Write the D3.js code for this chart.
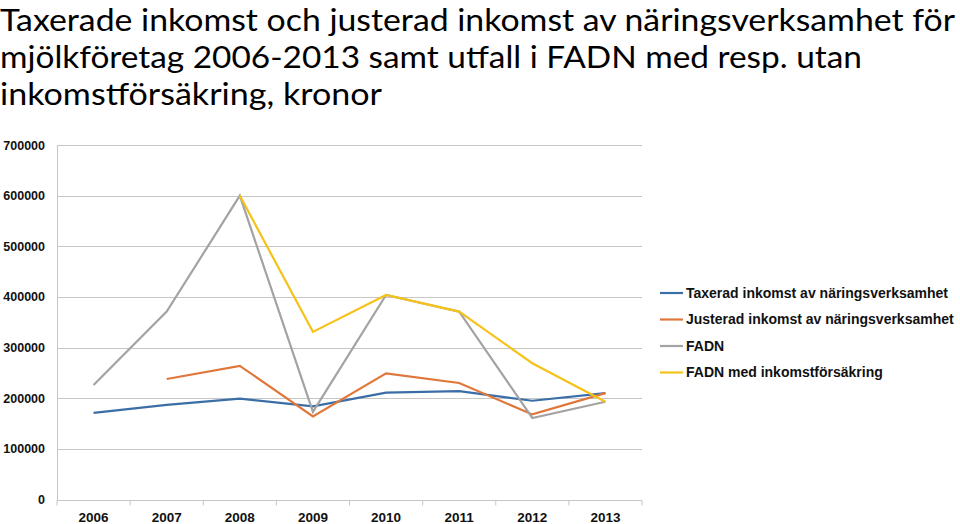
<!DOCTYPE html>
<html>
<head>
<meta charset="utf-8">
<script src="https://cdn.jsdelivr.net/npm/d3@7"></script>
<style>
  html, body { margin: 0; padding: 0; background: #fff; }
  svg { display: block; }
  text { font-family: "Liberation Sans", Arial, sans-serif; }
</style>
</head>
<body>
<div id="chart"></div>
<script>
// Titelrader
const titleLines = [
  "Taxerade inkomst och justerad inkomst av näringsverksamhet för",
  "mjölkföretag 2006-2013 samt utfall i FADN med resp. utan",
  "inkomstförsäkring, kronor",
];

// Kategorier (år)
const years = ["2006", "2007", "2008", "2009", "2010", "2011", "2012", "2013"];

// Serievärden (null = saknas)
const taxerad = [171000, 187000, 199000, 184000, 211000, 214000, 195000, 210000];
const justerad = [null, 238000, 264000, 164000, 249000, 230000, 168000, 210000];
const fadn = [226000, 371000, 600000, 173000, 404000, 371000, 161000, 193000];
const fadnMed = [null, null, 600000, 331000, 404000, 371000, 269000, 193000];

const yTicks = [0, 100000, 200000, 300000, 400000, 500000, 600000, 700000];

const seriesNames = [
  "Taxerad inkomst av näringsverksamhet",
  "Justerad inkomst av näringsverksamhet",
  "FADN",
  "FADN med inkomstförsäkring",
];
const seriesColors = ["#3b6ea6", "#e0773a", "#a3a3a3", "#f5c21a"];

const series = [taxerad, justerad, fadn, fadnMed].map((values, i) => ({
  name: seriesNames[i],
  color: seriesColors[i],
  values: values.map((v, j) => ({ year: years[j], value: v })),
}));

const W = 960, H = 524;
const plot = { left: 57, right: 642, top: 145, bottom: 499.5 };

const svg = d3.select("#chart").append("svg").attr("width", W).attr("height", H);

// Titel
const title = svg.append("g");
const baselines = [31, 68, 105];
const titleWidths = [955, 862, 382];
titleLines.forEach((t, i) => {
  title.append("text")
    .attr("x", 0)
    .attr("y", baselines[i])
    .style("font-family", "Lato, 'Open Sans', 'Liberation Sans', sans-serif")
    .style("font-weight", 400)
    .attr("font-size", 30.5)
    .attr("fill", "#000")
    .attr("textLength", titleWidths[i])
    .attr("lengthAdjust", "spacingAndGlyphs")
    .text(t);
});

// Skalor
const x = d3.scaleBand().domain(years).range([plot.left, plot.right]);
const y = d3.scaleLinear().domain([0, 700000]).range([plot.bottom, plot.top]);

// Stödlinjer
svg.append("g")
  .selectAll("line")
  .data(yTicks.filter((d) => d > 0))
  .join("line")
  .attr("x1", plot.left)
  .attr("x2", plot.right)
  .attr("y1", (d) => Math.round(y(d)) + 0.5)
  .attr("y2", (d) => Math.round(y(d)) + 0.5)
  .attr("stroke", "#c6c6c6")
  .attr("stroke-width", 1);

// Y-axel
const yAxis = svg.append("g")
  .attr("transform", `translate(${plot.left},0)`)
  .call(d3.axisLeft(y).tickValues(yTicks).tickFormat(d3.format("d")).tickSize(0).tickPadding(12));
yAxis.select(".domain").attr("stroke", "#c6c6c6");
yAxis.selectAll("text")
  .attr("font-size", 12.5)
  .attr("font-weight", "bold")
  .attr("fill", "#111");

// X-axel
const xAxis = svg.append("g")
  .attr("transform", `translate(0,${Math.round(plot.bottom) + 0.5})`)
  .call(d3.axisBottom(x).tickSize(0).tickPadding(12));
xAxis.select(".domain").attr("stroke", "#c6c6c6").attr("d", `M${plot.left},0H${plot.right}`);
xAxis.selectAll("text")
  .attr("font-size", 13.5)
  .attr("font-weight", "bold")
  .attr("fill", "#111");
// Skiljestreck mellan kategorierna
xAxis.append("g")
  .selectAll("line")
  .data(years.concat(["end"]))
  .join("line")
  .attr("x1", (d, i) => plot.left + i * x.bandwidth())
  .attr("x2", (d, i) => plot.left + i * x.bandwidth())
  .attr("y1", 0)
  .attr("y2", 5)
  .attr("stroke", "#c6c6c6");

// Linjer
const line = d3.line()
  .defined((d) => d.value != null)
  .x((d) => x(d.year) + x.bandwidth() / 2)
  .y((d) => y(d.value));

svg.append("g")
  .selectAll("path")
  .data(series)
  .join("path")
  .attr("fill", "none")
  .attr("stroke", (d) => d.color)
  .attr("stroke-width", 2.2)
  .attr("stroke-linejoin", "miter")
  .attr("d", (d) => line(d.values));

// Förklaring
const legend = svg.append("g");
const rowY = [293, 319.5, 346, 372.5];
const items = legend.selectAll("g")
  .data(series)
  .join("g")
  .attr("transform", (d, i) => `translate(660,${rowY[i]})`);
items.append("line")
  .attr("x1", 0).attr("x2", 23)
  .attr("stroke", (d) => d.color)
  .attr("stroke-width", 2.2);
const labels = items.append("text")
  .attr("x", 26)
  .attr("dy", "0.35em")
  .attr("font-size", 13)
  .attr("font-weight", "bold")
  .attr("fill", "#111")
  .text((d) => d.name);
// anpassa teckenstorlek så att första etiketten blir ca 266 px bred
const w0 = labels.node().getComputedTextLength();
if (w0 > 0) labels.attr("font-size", Math.min(14, 13 * 266 / w0));
</script>
</body>
</html>
